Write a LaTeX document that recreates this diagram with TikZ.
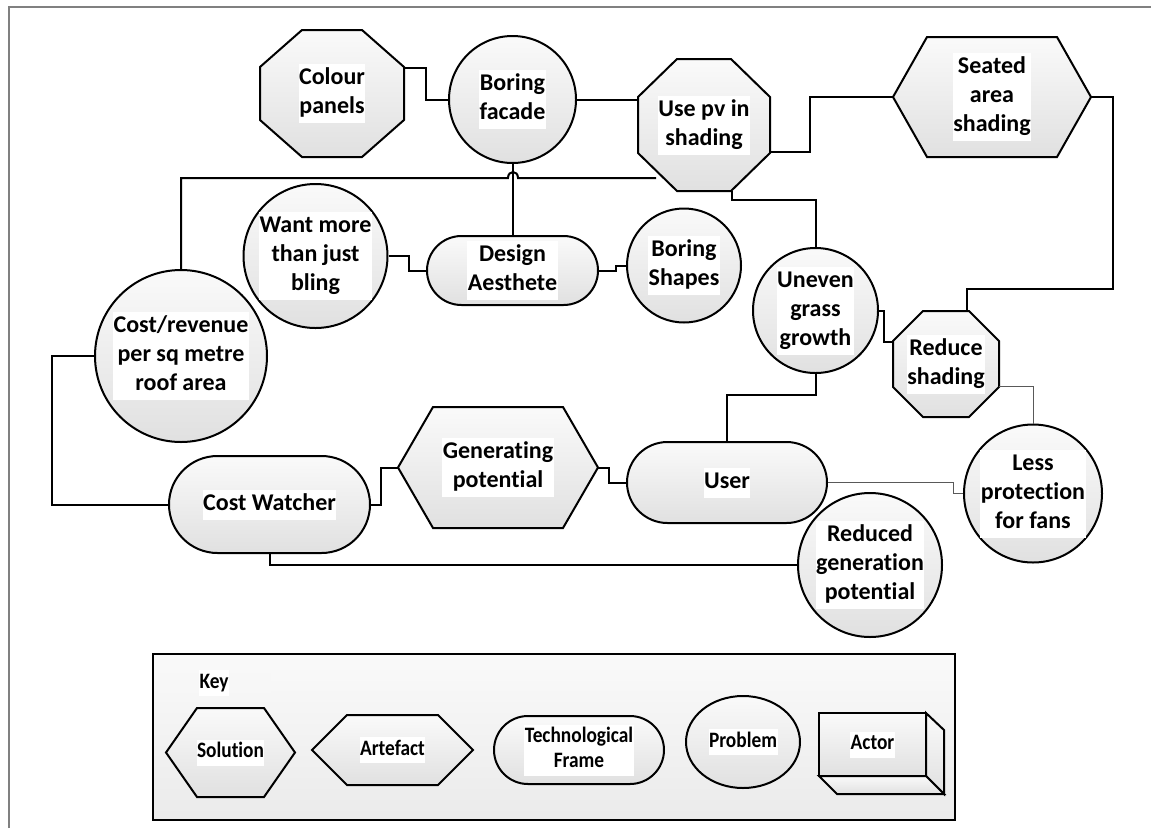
\documentclass[tikz,border=0pt]{standalone}
\usepackage{fontspec}
\setmainfont{Carlito}[Ligatures=NoCommon]
\usetikzlibrary{shapes.misc,shapes.geometric}

\newcommand\lblfnt{\fontsize{24}{29}\selectfont\bfseries}
\newcommand\keyfnt{\fontsize{22}{25}\selectfont\bfseries}
% white text panel behind every label
\newcommand\wbox[1]{{\setlength{\fboxsep}{0.5pt}\colorbox{white}{\begin{tabular}{@{}c@{}}#1\end{tabular}}}}
% narrower lettering used in the key
\newcommand\kbox[1]{{\setlength{\fboxsep}{0.5pt}\colorbox{white}{\scalebox{0.88}[1]{\begin{tabular}{@{}c@{}}#1\end{tabular}}}}}

\tikzset{
  conn/.style={line width=2pt, black},
  thinconn/.style={line width=1pt, black!65},
  shp/.style={draw=black, line width=2pt, top color=black!2, bottom color=black!12},
  lbl/.style={draw=none, inner sep=0pt, font=\lblfnt},
  disc/.style={shp, circle, inner sep=0pt, font=\lblfnt},
  stad/.style={shp, rounded rectangle, inner sep=0pt, font=\lblfnt},
}

% octagon: centre x, centre y, width, height, chamfer x, chamfer y
\newcommand\octpath[6]{%
  \path[shp] (#1-#3/2+#5,#2-#4/2) -- (#1+#3/2-#5,#2-#4/2) -- (#1+#3/2,#2-#4/2+#6)
    -- (#1+#3/2,#2+#4/2-#6) -- (#1+#3/2-#5,#2+#4/2) -- (#1-#3/2+#5,#2+#4/2)
    -- (#1-#3/2,#2+#4/2-#6) -- (#1-#3/2,#2-#4/2+#6) -- cycle;}
% hexagon pointed left and right: centre x, centre y, width, height, point depth
\newcommand\hexpath[5]{%
  \path[shp] (#1-#3/2,#2) -- (#1-#3/2+#5,#2-#4/2) -- (#1+#3/2-#5,#2-#4/2)
    -- (#1+#3/2,#2) -- (#1+#3/2-#5,#2+#4/2) -- (#1-#3/2+#5,#2+#4/2) -- cycle;}

\begin{document}
\begin{tikzpicture}[x=1pt,y=-1pt]
\useasboundingbox (0,0) rectangle (1151,828);

% frame
\draw[black!50, line width=1.5pt] (9,828) -- (9,7) -- (1151,7);

% ---- solutions (octagons) and artefacts (hexagons)
\octpath{332}{93.5}{144}{127}{42}{37}
\node[lbl, minimum width=144, minimum height=127] (cp) at (332,93.5) {\wbox{Colour\\panels}};
\octpath{704}{125}{132}{132}{39}{38}
\node[lbl, minimum width=132, minimum height=132] (pv) at (704,125) {\wbox{Use pv in\\shading}};
\octpath{946}{364}{106}{106}{30}{30}
\node[lbl, minimum width=106, minimum height=106] (rs) at (946,364) {\wbox{Reduce\\shading}};
\hexpath{992}{97}{198}{120}{34}
\node[lbl, minimum width=198, minimum height=120] (sa) at (992,97) {\wbox{Seated\\area\\shading}};
\hexpath{498}{467.5}{200}{121}{35}
\node[lbl, minimum width=200, minimum height=121] (gp) at (498,467.5) {\wbox{Generating\\potential}};

% ---- problems (circles)
\node[disc, minimum size=127] (bf) at (512.5,99.5) {\wbox{Boring\\facade}};
\node[disc, minimum size=172] (cr) at (181,356) {\wbox{Cost/revenue\\per sq metre\\roof area}};
\node[disc, minimum size=144] (wm) at (315.5,256) {\wbox{Want more\\than just\\bling}};
\node[disc, minimum size=114] (bs) at (684,265.5) {\wbox{Boring\\Shapes}};
\node[disc, minimum size=125] (ug) at (815.5,310.5) {\wbox{Uneven\\grass\\growth}};
\node[disc, minimum size=138] (lp) at (1033,493.5) {\wbox{Less\\protection\\for fans}};
\node[disc, minimum size=144] (rg) at (870,565) {\wbox{Reduced\\generation\\potential}};

% ---- technological frames
\node[stad, minimum width=171, minimum height=69] (da) at (512.5,270.5) {\wbox{Design\\Aesthete}};
\node[stad, minimum width=201, minimum height=97] (cw) at (269.5,504.5) {\wbox{Cost Watcher}};
\node[stad, minimum width=200, minimum height=81] (us) at (727,482.5) {\wbox{User}};

% ---- connectors
\draw[conn] (cp.east |- 0,68) -| (426,99.5) -- (bf.west);
\draw[conn] (bf.east) -- (bf.east -| pv.west);
\draw[conn] (pv.east |- 0,152) -| (810,97) -- (sa.west);
\draw[conn] (sa.east) -| (1113,289) -| (rs.north -| 967,0);
\draw[conn] (pv.south -| 732,0) |- (ug.north |- 0,200) -- (ug.north);
\draw[conn] (cr.north) |- (508,178) .. controls (508,170) and (518,170) .. (518,178) -- (656,178);
\draw[conn] (bf.south) -- (da.north);
\draw[conn] (wm.east) -| (409,270.5) -- (da.west);
\draw[conn] (da.east) -- (616,270.5) |- (bs.west);
\draw[conn] (ug.east) -| (884,342) -- (rs.west |- 0,342);
\draw[thinconn] (rs.east |- 0,386) -| (lp.north);
\draw[conn] (ug.south) |- (us.north |- 0,395) -- (us.north);
\draw[thinconn] (us.east) -| (953,493.5) -- (lp.west);
\draw[conn] (gp.east) -| (609,482.5) -- (us.west);
\draw[conn] (cw.east) -| (381,467.5) -- (gp.west);
\draw[conn] (cw.west) -| (52,356) -- (cr.west);
\draw[conn] (cw.south) |- (rg.west);

% ---- key
\node[shp, rectangle, top color=black!2, bottom color=black!8, minimum width=802, minimum height=166, inner sep=0] (keybox) at (554,737) {};
\fill[black!3] (158,673) rectangle (271,693);
\node[lbl, font=\keyfnt] (keylabel) at (214,683) {\kbox{Key}};
\hexpath{230.5}{752.5}{129}{89}{31}
\node[lbl, font=\keyfnt, minimum width=129, minimum height=89] (ksol) at (230.5,752.5) {\kbox{Solution}};
\hexpath{392.5}{750}{161}{70}{35}
\node[lbl, font=\keyfnt, minimum width=161, minimum height=70] (kart) at (392.5,750) {\kbox{Artefact}};
\node[stad, font=\keyfnt, minimum width=170, minimum height=68] (ktf) at (579,750) {\kbox{Technological\\Frame}};
\node[shp, ellipse, inner sep=0, font=\keyfnt, minimum width=114, minimum height=92] (kpr) at (743,742) {\kbox{Problem}};
\path[shp] (926,713) -- (944,730) -- (944,794) -- (926,776) -- cycle;
\path[shp] (819,776) -- (926,776) -- (944,794) -- (837,794) -- cycle;
\node[shp, rectangle, inner sep=0, font=\keyfnt, minimum width=107, minimum height=63] (kac) at (872.5,744.5) {\kbox{Actor}};

\end{tikzpicture}
\end{document}
